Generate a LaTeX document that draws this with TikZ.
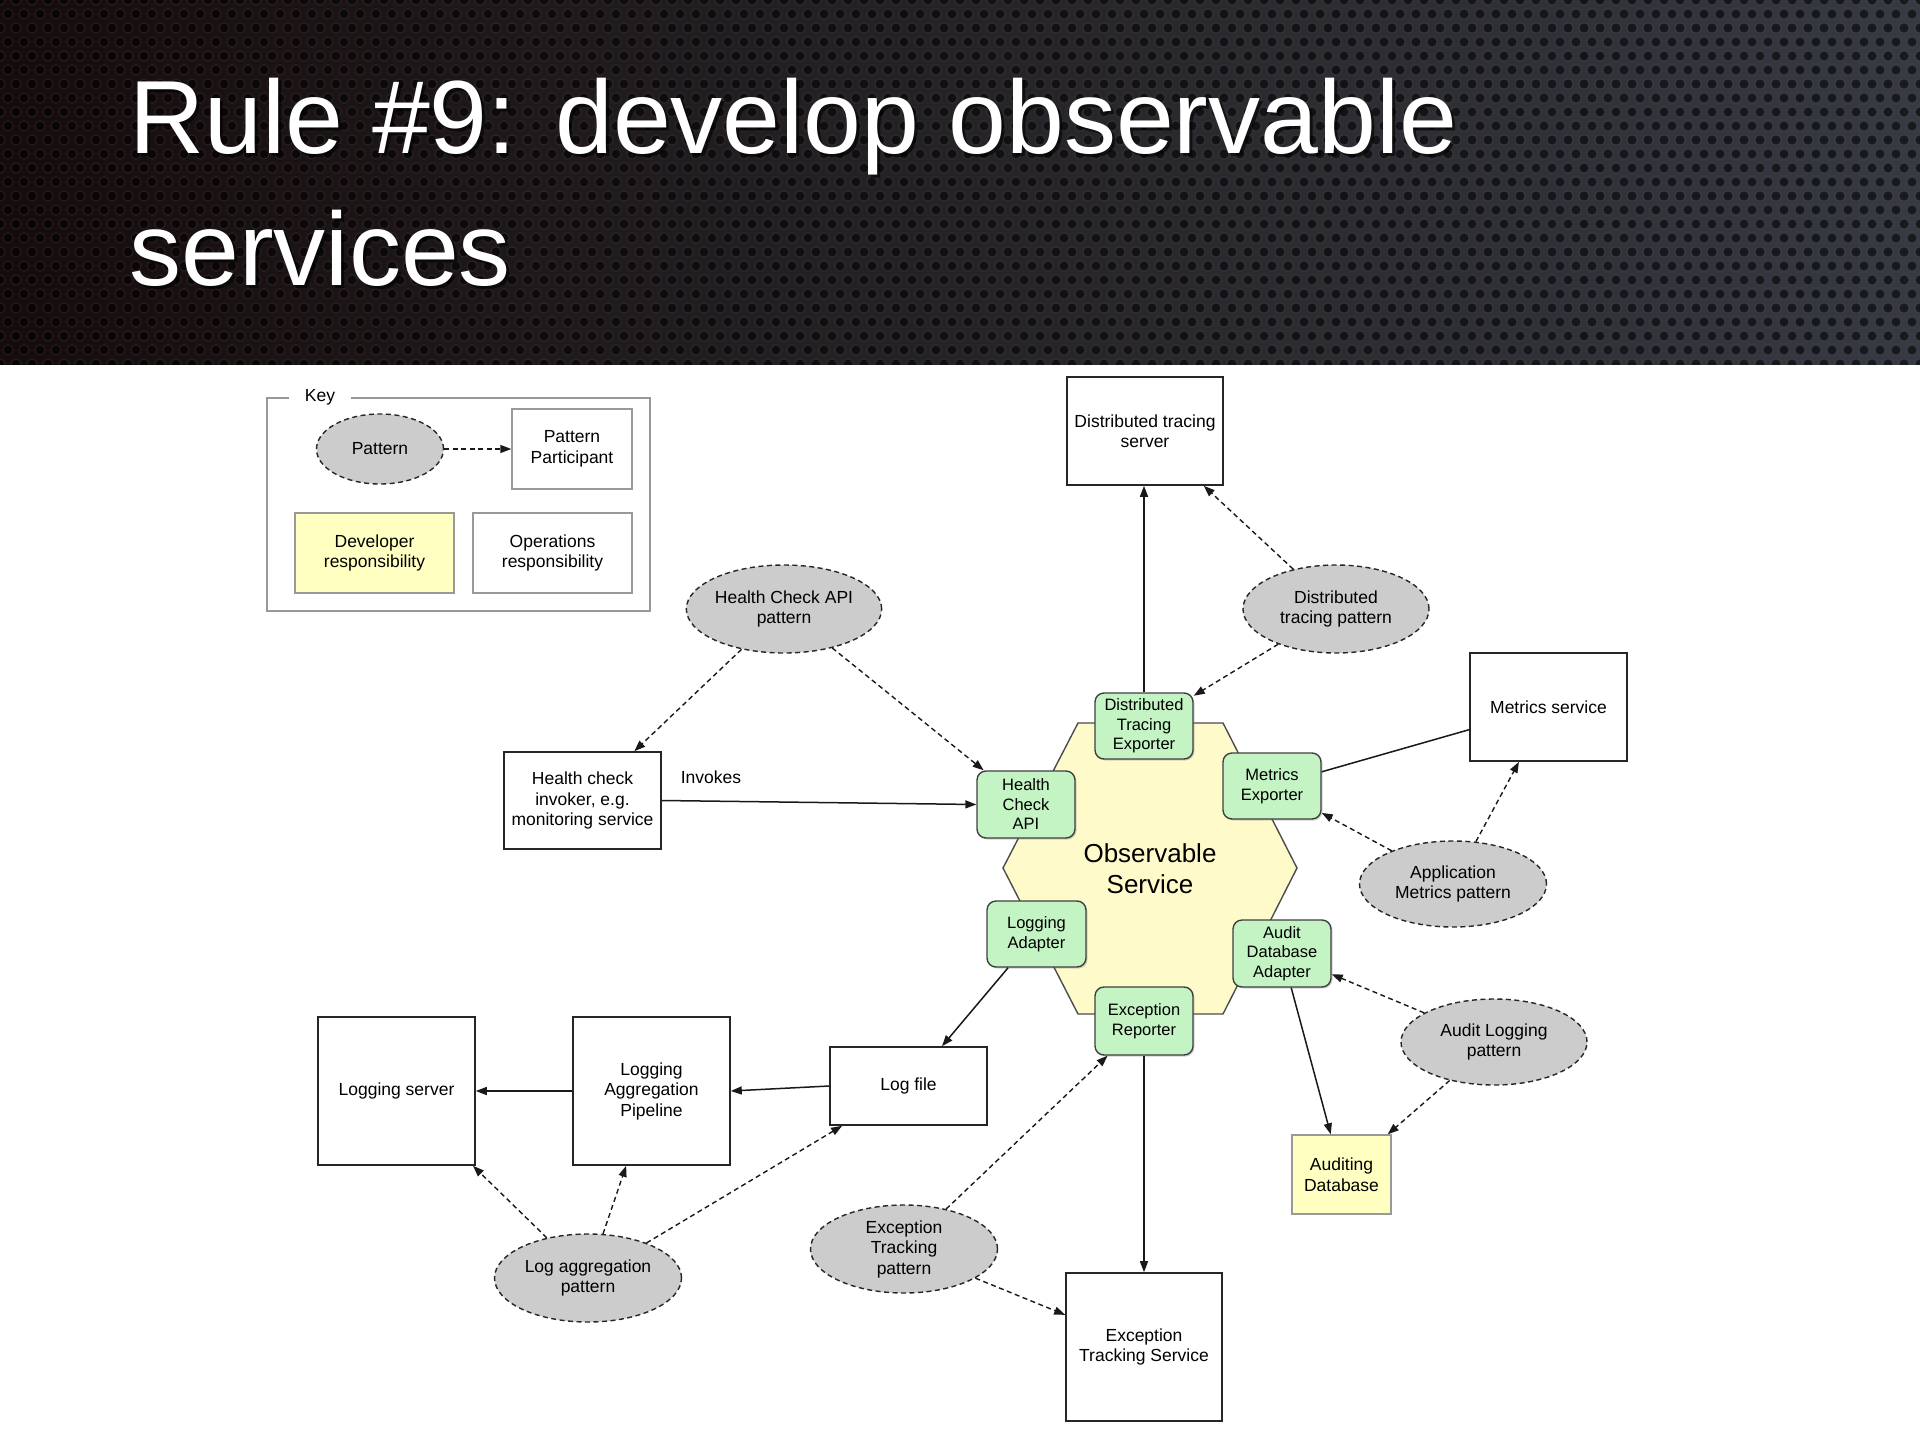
\documentclass[tikz,border=0pt]{standalone}
\usepackage{fontspec}
\setmainfont{Liberation Sans}
\usetikzlibrary{arrows.meta,shapes.geometric,shadows}
\definecolor{ellfill}{RGB}{204,204,204}
\definecolor{grn}{RGB}{196,244,196}
\definecolor{hexfill}{RGB}{255,250,202}
\definecolor{yelbox}{RGB}{255,255,194}
\definecolor{hdrL}{RGB}{22,12,12}
\definecolor{hdrR}{RGB}{54,58,66}
\begin{document}
\begin{tikzpicture}[x=1pt,y=-1pt,
  txt/.style={font=\fontsize{17.5}{20.5}\selectfont, align=center, text=black},
  box/.style={txt, rectangle, draw=black!85, line width=1.6pt, fill=white, inner sep=0pt},
  keybox/.style={txt, rectangle, draw=black!40, line width=1.4pt, fill=white, inner sep=0pt},
  devbox/.style={txt, rectangle, draw=black!40, line width=1.4pt, fill=yelbox, inner sep=0pt},
  pat/.style={txt, ellipse, draw=black!85, dash pattern=on 5pt off 3.5pt, fill=ellfill, line width=1.4pt, inner sep=0pt},
  adapter/.style={font=\fontsize{16.5}{19.5}\selectfont, align=center, rectangle, rounded corners=9pt, draw=black!75, fill=grn, line width=1.4pt, inner sep=0pt, drop shadow={shadow xshift=1.5pt, shadow yshift=-1.5pt, opacity=0.35}},
  conn/.style={line width=1.5pt, draw=black!90, -{Triangle[length=11pt,width=8pt]}},
  dconn/.style={conn, line width=1.4pt, dash pattern=on 5pt off 3.5pt},
  plain/.style={line width=1.5pt, draw=black!90},
  ttl/.style={anchor=base west, font=\fontsize{104}{120}\selectfont},
]
\useasboundingbox (0,0) rectangle (1920,1440);
\fill[white] (0,0) rectangle (1920,1440);

% ---------- header ----------
\shade[left color=hdrL, right color=hdrR] (0,0) rectangle (1920,364);
\begin{scope}
\clip (0,0) rectangle (1920,364);
\foreach \r in {0,...,26}{
  \foreach \c in {0,...,120}{
    \filldraw[fill=black, fill opacity=0.55, draw=white, draw opacity=0.08, line width=1.2pt]
      ({\c*16+mod(\r,2)*8},{\r*14}) circle (5);
  }
}
\end{scope}
\node[ttl, text=black, opacity=0.6] (t1s) at (129,156) {Rule \#9: develop observable};
\node[ttl, text=white] (t1) at (126,153) {Rule \#9: develop observable};
\node[ttl, text=black, opacity=0.6] (t2s) at (129,288) {services};
\node[ttl, text=white] (t2) at (126,285) {services};

% ---------- key ----------
\draw[draw=black!40, line width=1.4pt] (289,398) -- (267,398) -- (267,611) -- (650,611) -- (650,398) -- (351,398);
\node[txt] (keylbl) at (320,397) {Key};
\node[pat, minimum width=127pt, minimum height=70pt] (keyPat) at (380,449) {Pattern};
\node[keybox, minimum width=120pt, minimum height=80pt] (keyPart) at (572,449) {Pattern\\Participant};
\node[devbox, minimum width=159pt, minimum height=80pt] (keyDev) at (374.5,553) {Developer\\responsibility};
\node[keybox, minimum width=159pt, minimum height=80pt] (keyOps) at (552.5,553) {Operations\\responsibility};
\draw[dconn] (keyPat) -- (keyPart);

% ---------- hexagon ----------
\draw[fill=hexfill, draw=black!70, line width=1.4pt]
  (1078,723) -- (1223,723) -- (1297,868) -- (1223,1014) -- (1078,1014) -- (1003,868) -- cycle;
\node[font=\fontsize{26}{31}\selectfont, align=center] (obs) at (1150,869) {Observable\\Service};

% ---------- boxes ----------
\node[box, minimum width=156pt, minimum height=108pt] (dts) at (1145,431) {Distributed tracing\\server};
\node[box, minimum width=157pt, minimum height=108pt] (ms) at (1548.5,707) {Metrics service};
\node[box, minimum width=157pt, minimum height=97pt] (hci) at (582.5,800.5) {Health check\\invoker, e.g.\\monitoring service};
\node[box, minimum width=157pt, minimum height=78pt] (lf) at (908.5,1086) {Log file};
\node[box, minimum width=157pt, minimum height=148pt] (lap) at (651.5,1091) {Logging\\Aggregation\\Pipeline};
\node[box, minimum width=157pt, minimum height=148pt] (ls) at (396.5,1091) {Logging server};
\node[box, minimum width=156pt, minimum height=148pt] (ets) at (1144,1347) {Exception\\Tracking Service};
\node[devbox, minimum width=99pt, minimum height=79pt] (adb) at (1341.5,1174.5) {Auditing\\Database};

% ---------- adapters ----------
\node[adapter, minimum width=98pt, minimum height=66pt] (dte) at (1144,726) {Distributed\\Tracing\\Exporter};
\node[adapter, minimum width=98pt, minimum height=67pt] (hca) at (1026,804.5) {Health\\Check\\API};
\node[adapter, minimum width=98pt, minimum height=66pt] (me) at (1272,786) {Metrics\\Exporter};
\node[adapter, minimum width=99pt, minimum height=66pt] (la) at (1036.5,934) {Logging\\Adapter};
\node[adapter, minimum width=98pt, minimum height=67pt] (ada) at (1282,953.5) {Audit\\Database\\Adapter};
\node[adapter, minimum width=98pt, minimum height=68pt] (er) at (1144,1021) {Exception\\Reporter};

% ---------- patterns ----------
\node[pat, minimum width=187pt, minimum height=88pt] (hcp) at (784,609) {Health Check API\\pattern};
\node[pat, minimum width=186pt, minimum height=88pt] (dtp) at (1336,609) {Distributed\\tracing pattern};
\node[pat, minimum width=187pt, minimum height=86pt] (amp) at (1453,884) {Application\\Metrics pattern};
\node[pat, minimum width=186pt, minimum height=86pt] (alp) at (1494,1042) {Audit Logging\\pattern};
\node[pat, minimum width=187pt, minimum height=88pt] (lagp) at (588,1278) {Log aggregation\\pattern};
\node[pat, minimum width=187pt, minimum height=88pt] (etp) at (904,1249) {Exception\\Tracking\\pattern};

% ---------- connectors ----------
\draw[conn] (dte.north) -- (dte.north |- dts.south);
\draw[dconn] (dtp) -- (dts);
\draw[dconn] (dtp) -- (dte);
\draw[dconn] (hcp) -- (hci);
\draw[dconn] (hcp) -- (hca);
\draw[conn] (hci.east) -- (hca.west);
\node[txt] (inv) at (711,777) {Invokes};
\draw[plain] (me) -- (ms);
\draw[dconn] (amp) -- (me);
\draw[dconn] (amp) -- (ms);
\draw[conn] (ada) -- (adb);
\draw[dconn] (alp) -- (ada);
\draw[dconn] (alp) -- (adb);
\draw[conn] (er.south) -- (er.south |- ets.north);
\draw[dconn] (etp) -- (er);
\draw[dconn] (etp) -- (ets);
\draw[conn] (la) -- (lf);
\draw[conn] (lf.west) -- (lap.east);
\draw[conn] (lap.west) -- (ls.east);
\draw[dconn] (lagp) -- (ls);
\draw[dconn] (lagp) -- (lap);
\draw[dconn] (lagp) -- (lf);
\end{tikzpicture}
\end{document}
